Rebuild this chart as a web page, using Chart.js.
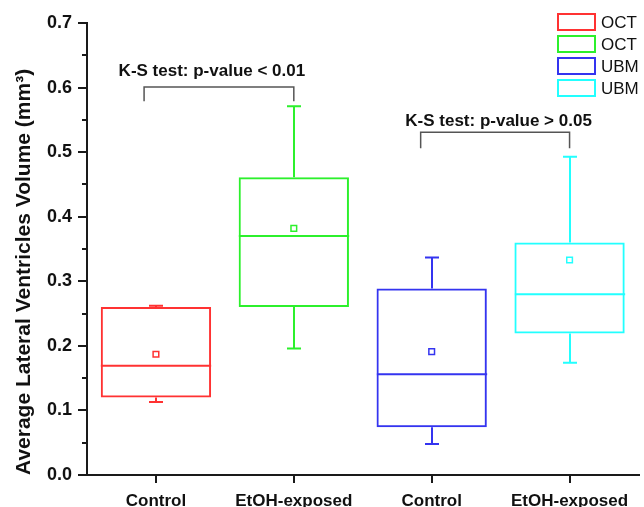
<!DOCTYPE html>
<html>
<head>
<meta charset="utf-8">
<script src="https://cdn.jsdelivr.net/npm/chart.js@4.4.0/dist/chart.umd.min.js"></script>
<style>
  html, body { margin: 0; padding: 0; background: #fff; }
  #wrap { width: 644px; height: 507px; }
</style>
</head>
<body>
<div id="wrap"><canvas id="boxChart"></canvas></div>
<script>
// box plot values
var groups = ["Control", "EtOH-exposed", "Control", "EtOH-exposed"];
var methods = ["OCT", "OCT", "UBM", "UBM"];
var q1 = [0.120, 0.260, 0.074, 0.219];
var q3 = [0.260, 0.461, 0.289, 0.360];
var medians = [0.169, 0.370, 0.156, 0.280];
var whiskerLow = [0.113, 0.196, 0.048, 0.174];
var whiskerHigh = [0.262, 0.571, 0.337, 0.493];
var means = [0.187, 0.382, 0.191, 0.333];
var yTicks = [0, 0.1, 0.2, 0.3, 0.4, 0.5, 0.6, 0.7];
var yMinorTicks = [0.05, 0.15, 0.25, 0.35, 0.45, 0.55, 0.65];
var boxColors = ["#ff3232", "#2cf02c", "#3434f0", "#22ffff"];

// K-S test brackets
var testLabels = ["K-S test: p-value < 0.01", "K-S test: p-value > 0.05"];
var bracketFrom = [-0.086, 1.92];
var bracketTo = [1, 3];
var bracketY = [0.601, 0.531];
var bracketLegY = [0.579, 0.506];
var labelX = [0.406, 2.485];
var labelY = [0.625, 0.547];

var fontFamily = "'Liberation Sans', Arial, sans-serif";
var axisColor = "#1a1a1a";
Chart.defaults.font.family = fontFamily;

var boxExtras = {
  id: "boxExtras",
  afterDatasetsDraw: function (chart) {
    var ctx = chart.ctx;
    var x = chart.scales.x;
    var y = chart.scales.y;
    var bars = chart.getDatasetMeta(0).data;
    ctx.save();
    ctx.lineWidth = 2;
    for (var i = 0; i < groups.length; i++) {
      var cx = Math.round(x.getPixelForValue(i));
      var half = bars[i].width / 2;
      ctx.strokeStyle = boxColors[i];
      ctx.beginPath();
      // median
      ctx.moveTo(cx - half, y.getPixelForValue(medians[i]));
      ctx.lineTo(cx + half, y.getPixelForValue(medians[i]));
      // whiskers
      ctx.moveTo(cx, y.getPixelForValue(q3[i]));
      ctx.lineTo(cx, y.getPixelForValue(whiskerHigh[i]));
      ctx.moveTo(cx, y.getPixelForValue(q1[i]));
      ctx.lineTo(cx, y.getPixelForValue(whiskerLow[i]));
      // caps
      ctx.moveTo(cx - 7, y.getPixelForValue(whiskerHigh[i]));
      ctx.lineTo(cx + 7, y.getPixelForValue(whiskerHigh[i]));
      ctx.moveTo(cx - 7, y.getPixelForValue(whiskerLow[i]));
      ctx.lineTo(cx + 7, y.getPixelForValue(whiskerLow[i]));
      ctx.stroke();
    }

    // brackets and test labels
    ctx.strokeStyle = "#555";
    ctx.lineWidth = 1.5;
    ctx.fillStyle = "#111";
    ctx.font = "bold 17px " + fontFamily;
    ctx.textAlign = "center";
    ctx.textBaseline = "middle";
    for (var k = 0; k < testLabels.length; k++) {
      var x0 = x.getPixelForValue(bracketFrom[k]);
      var x1 = x.getPixelForValue(bracketTo[k]);
      var yt = y.getPixelForValue(bracketY[k]);
      var yl = y.getPixelForValue(bracketLegY[k]);
      ctx.beginPath();
      ctx.moveTo(x0, yl);
      ctx.lineTo(x0, yt);
      ctx.lineTo(x1, yt);
      ctx.lineTo(x1, yl);
      ctx.stroke();
      ctx.fillText(testLabels[k], x.getPixelForValue(labelX[k]), y.getPixelForValue(labelY[k]));
    }

    // minor ticks on the y axis
    ctx.strokeStyle = axisColor;
    ctx.lineWidth = 2;
    ctx.beginPath();
    yMinorTicks.forEach(function (v) {
      var py = Math.round(y.getPixelForValue(v));
      ctx.moveTo(x.left - 5, py);
      ctx.lineTo(x.left, py);
    });
    ctx.stroke();

    // legend, top right
    ctx.font = "17px " + fontFamily;
    ctx.textAlign = "left";
    for (var j = 0; j < methods.length; j++) {
      var top = 14 + j * 22;
      ctx.strokeStyle = boxColors[j];
      ctx.lineWidth = 2;
      ctx.strokeRect(558, top, 37, 16);
      ctx.fillStyle = "#111";
      ctx.fillText(methods[j], 601, top + 9);
    }
    ctx.restore();
  }
};

new Chart(document.getElementById("boxChart"), {
  data: {
    labels: groups,
    datasets: [
      {
        type: "bar",
        data: q1.map(function (v, i) { return [v, q3[i]]; }),
        backgroundColor: "rgba(0,0,0,0)",
        borderColor: boxColors,
        borderWidth: 2,
        borderSkipped: false,
        barPercentage: 0.8,
        categoryPercentage: 1.0
      },
      {
        type: "line",
        data: means,
        showLine: false,
        pointStyle: "rect",
        pointRadius: 4,
        pointBorderWidth: 1.5,
        pointBackgroundColor: "#fff",
        pointBorderColor: boxColors
      }
    ]
  },
  options: {
    responsive: true,
    maintainAspectRatio: false,
    animation: false,
    layout: { padding: { top: 23, right: 0, left: 0, bottom: 0 } },
    plugins: {
      legend: { display: false },
      tooltip: { enabled: false }
    },
    scales: {
      x: {
        type: "category",
        offset: true,
        afterFit: function (s) { s.height = 32; },
        border: { color: axisColor, width: 2 },
        grid: { drawOnChartArea: false, offset: false, tickLength: 8, color: axisColor, lineWidth: 2 },
        ticks: {
          padding: 8,
          color: "#111",
          maxRotation: 0,
          autoSkip: false,
          font: { size: 17, weight: "bold" }
        }
      },
      y: {
        min: 0,
        max: 0.7,
        afterFit: function (s) { s.width = 87; },
        afterBuildTicks: function (s) {
          s.ticks = yTicks.map(function (v) { return { value: v }; });
        },
        border: { color: axisColor, width: 2 },
        grid: { drawOnChartArea: false, tickLength: 9, color: axisColor, lineWidth: 2 },
        ticks: {
          padding: 6,
          color: "#111",
          font: { size: 18, weight: "bold" },
          callback: function (v) { return Number(v).toFixed(1); }
        },
        title: {
          display: true,
          text: "Average Lateral Ventricles Volume (mm³)",
          align: "start",
          color: "#111",
          padding: { top: 12, bottom: 0 },
          font: { size: 21, weight: "bold" }
        }
      }
    }
  },
  plugins: [boxExtras]
});
</script>
</body>
</html>
